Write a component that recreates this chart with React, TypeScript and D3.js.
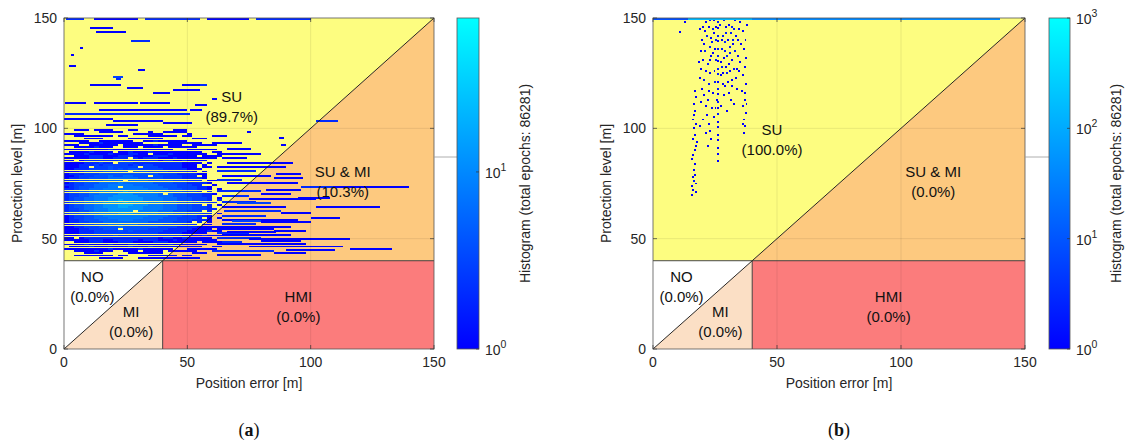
import React from "react";
import * as d3 from "d3";

// axis ticks (both axes, metres)
const axisTicks = [0, 50, 100, 150];

// counts per histogram level char ('.' = empty, '1'..'9')
const levelCounts = [0, 1, 2, 3, 4, 6, 8, 12, 18, 30];

// (a) dense core of the histogram: one string per protection level (top row first),
// one char per 2 m of position error starting at 0 m
const coreTopA = 99;
const coreBinA = 2;
const coreRowsA = [
  "..111.1111...11.......111.......",
  ".......11111.....1..11111.......",
  "1111..........111111.....1......",
  "..11111111.11....111111.11......",
  "....1111.....1111111......111...",
  "11111..1111111..112111111.......",
  "...1111211111111.....1111111..11",
  "111..111111.111111211111..11111.",
  "..11112111..111.1111.111111.....",
  "1111111112111112111111...111111.",
  ".111121111.11211121111111111..11",
  "11112111121112211.11121111111...",
  "..1112221112221111222111111.1111",
  "1111122211222.21222111211111111.",
  "11.12222222322222221221121111...",
  "1111222322.33322222222221111.1..",
  "111222323333323233222222111.1...",
  "11122.333433333.33322222111.11.1",
  "1122233334343443333322222111....",
  "1112333344444.4443333222221.1..1",
  "12223334444444444443333222211...",
  "11233344454455444.443333222.1...",
  "12233444455555544444333322221...",
  "222334445555.555544444333222.111",
  "123344455556555555444433322221..",
  "2233445556666655555444433322..1.",
  "12344455566.666655554443333221..",
  "223445556666666665555444333221.1",
  "2334455666667666665554443332.2..",
  "23344556666777666665.5444333221.",
  "233445666677777666655544433322..",
  "234455666777777766665554443332.1",
  "234455666778777766665554443332.2",
  "2344556677778777766655544433322.",
  "2344556677788877766655544433.2.1",
  "234455667778877766665554443332..",
  "2334556667777777666655544433322.",
  "23344566677777.6666555444333.2..",
  "233445566667776666655544433322.1",
  "123344556666666665555444333221..",
  "1233445556666666555544433332.1.1",
  "122344455556665555544443332221..",
  "12233444555555555444443332.2.1..",
  "112233444555555444443333222.11..",
  "1122333444454444444333322221111.",
  "11122333444.444443333222221111..",
  "11122233333434333333222221111211",
  "11122233333333333332222211111...",
  "11122222223222222222222211112111",
  "11.122222222222222212211211111..",
  "1111122211222221222111211111111.",
  "..1112221112221111222111111.1111",
  "11112111121112211111121111111...",
  ".111121111111211121111111111..11",
  "1111111112111112111111...111111.",
  "..11112111..111.1111.111111.....",
  "....1111.....1111111......111...",
  "..11111111.11....111111.11......",
  ".......11111.....1..11111.......",
];

// (a) separate streaks: [protection level, pe from, pe to, count]
const streaksA = [
  [145, 10.5, 20, 1], [143, 13, 25, 1], [139, 27, 35, 2], [136, 6.5, 7.5, 1],
  [133, 3, 4, 1], [123, 20, 24, 3], [122, 21, 23, 2], [119, 10.5, 23, 1],
  [118, 25.5, 32, 1], [115.5, 36, 43, 1], [117, 44, 55, 1], [119, 55, 58, 2],
  [111, 0.5, 9, 1], [111, 12, 30, 1], [110, 53, 58, 1], [111, 31, 43, 1],
  [108, 51, 56, 1], [108, 14, 37, 1], [108, 37, 50, 1], [106, 0.5, 51, 2],
  [104, 0, 20, 1], [103, 20, 40, 1], [101, 17, 30, 1], [102, 40, 52, 1],
  [119, 48, 55, 1], [128, 2, 5, 1], [126, 30, 33, 1], [113, 60, 62, 1],
  [103, 102, 111, 2], [98, 74, 76, 1], [95, 87, 89, 1], [92, 88, 90, 1],
  [96, 60, 66, 1], [93, 64, 72, 1], [90, 66, 76, 1], [88, 62, 80, 1],
  [86, 64, 74, 1], [84, 66, 93, 1], [82, 64, 90, 1], [80, 62, 78, 2],
  [78, 64, 84, 1], [76, 62, 72, 2], [75, 66, 95, 1], [73, 96, 109, 2],
  [73, 109, 140, 1], [71, 62, 80, 2], [70, 80, 92, 1], [69, 64, 75, 2],
  [67.5, 75, 102, 1], [66, 64, 78, 2], [64, 102, 128, 1], [64, 64, 90, 1],
  [62, 65, 88, 2], [61, 88, 100, 1], [60, 64, 82, 2], [58, 64, 95, 1],
  [57, 80, 100, 1], [56, 64, 78, 2], [55, 62, 92, 1], [54, 62, 85, 1],
  [53, 85, 98, 1], [52, 62, 75, 2], [51, 64, 92, 1], [50, 62, 80, 2],
  [49.4, 75, 116, 1], [48, 64, 72, 2], [47, 62, 98, 1], [46, 75, 113, 1],
  [45, 116, 133, 1], [44, 60, 85, 2], [43, 85, 98, 1], [42, 62, 80, 1],
  [41, 30, 55, 1], [59, 100, 112, 1], [68, 95, 108, 1], [77, 85, 97, 1],
  [65.5, 70, 84, 3], [57.5, 68, 80, 3], [52.5, 66, 86, 1], [48.5, 80, 96, 1],
  [44.5, 90, 110, 1], [71.5, 82, 96, 1], [79, 86, 96, 1],
];

// top row (clipped at 150 m): [pe from, pe to, count]
const topRowA = [
  [1, 8, 2], [12, 30, 1], [33, 55, 2], [58, 75, 1], [78, 100, 2],
];
const topRowB = [
  [0, 14, 8], [14, 40, 150], [40, 140, 40],
];

// (b) single histogram cells: [position error, protection level, count]
const pointsB = [
  [15.8, 70, 1], [16.2, 72, 1], [15.9, 74, 1], [16.5, 76, 2], [16.1, 78, 1], [17, 79, 1],
  [16.4, 81, 1], [17.5, 71, 1], [17.2, 75, 1], [16, 88, 1], [16.8, 90, 1], [17.4, 92, 1],
  [16.2, 95, 1], [17, 97, 1], [16.5, 100, 1], [17.6, 94, 1], [16.3, 104, 1], [17.1, 108, 1],
  [16.6, 111, 1], [17.3, 114, 1], [16.9, 117, 1], [10.9, 143.7, 1], [13, 148, 1],
  [19.2, 112, 1], [19.8, 118, 1], [20.5, 122, 2], [19.5, 127, 1], [20.2, 131, 1], [21, 135, 2],
  [19.6, 140, 1], [20.8, 144, 1], [21.5, 148, 1], [22, 113, 1], [22.5, 120, 2], [23, 125, 1],
  [22.2, 129, 2], [23.5, 133, 1], [22.8, 137, 2], [23.2, 141, 1], [24, 145, 2], [24.5, 149, 1],
  [21.8, 106, 1], [22.6, 102, 1], [23.8, 109, 1], [24.2, 116, 1], [25, 121, 2], [24.8, 126, 1],
  [25.3, 131, 2], [25, 136, 1], [25.6, 140, 2], [24.6, 143, 1], [20, 104, 1], [21.2, 98, 1],
  [19, 101, 1], [23.5, 95, 1], [22, 92, 1],
  [26.2, 85, 1], [26.3, 88.5, 1], [26.1, 91, 1], [26.2, 94.5, 1], [26.3, 97, 1], [26.2, 100.5, 1],
  [26.1, 103, 1], [26.2, 106.5, 2], [26.3, 109, 1], [26.2, 112, 2], [26.1, 115.5, 1], [26.2, 118, 2],
  [26.3, 121, 1], [26.2, 124.5, 2], [26.1, 127, 2], [26.2, 130.5, 1], [26.3, 133, 2], [26.2, 136, 2],
  [26.1, 139.5, 1], [26.2, 142, 2], [26.3, 145.5, 1], [26.2, 148, 2],
  [27.5, 124, 1], [28, 128, 2], [28.5, 132, 1], [27.8, 136, 2], [29, 139, 3], [28.2, 142, 2],
  [29.5, 146, 1], [28.8, 149, 2], [30, 125, 2], [30.5, 129, 1], [29.8, 133, 3], [31, 137, 2],
  [30.3, 140, 1], [31.5, 143, 2], [30.8, 147, 1], [32, 122, 1], [32.5, 127, 2], [31.8, 131, 1],
  [33, 135, 2], [32.3, 138, 1], [33.5, 142, 1], [32.8, 145, 2], [33.2, 149, 1], [29.2, 119, 1],
  [30.6, 116, 1], [31.4, 113, 1], [28.6, 115, 1], [33.8, 118, 1], [27.3, 110, 1], [29.9, 108, 1],
  [32.7, 111, 1],
  [36.5, 98, 1], [37, 101, 1], [36.8, 104, 1], [37.4, 107, 1], [36.2, 110, 1], [37.2, 113, 1],
  [36.9, 116, 1], [37.6, 120, 1], [36.4, 124, 1], [37.1, 128, 1], [37.5, 132, 1], [36.7, 136, 1],
  [37.3, 140, 1], [36.1, 144, 1], [37.8, 147, 1], [35.2, 130, 1], [35.6, 138, 1], [34.8, 126, 1],
  [21.3, 126, 1], [22.9, 131, 1], [20.7, 138, 1], [23.7, 139, 2], [24.3, 134, 1], [21.9, 142, 2],
  [22.4, 146, 1], [23.1, 149, 2], [20.1, 146, 1], [19.4, 135, 1], [25.4, 146, 1], [27.1, 147, 2],
  [27.9, 140, 1], [28.9, 135, 2], [29.6, 128, 1], [31.2, 126, 1], [30.1, 121, 1], [31.9, 146, 2],
  [33.7, 127, 1], [34.2, 133, 1], [34.5, 145, 1], [30.9, 134, 2], [29.3, 143, 2], [28.4, 125, 1],
  [27.6, 130, 1], [32.1, 140, 2], [30.2, 150, 1], [35.1, 148, 1], [34.1, 140, 1], [25.8, 113, 1],
  [24.4, 105, 1], [23.1, 99, 1], [21.5, 110, 1], [20.6, 115, 1], [19.1, 123, 1], [18.6, 130, 1],
  [18.9, 145, 1], [22.7, 117, 1], [25.2, 109, 1], [28.1, 120, 1], [31.7, 119, 1], [33.4, 123, 1],
  [35.8, 117, 1], [36.3, 102, 1], [37.7, 111, 1], [16.9, 84, 1], [15.9, 86, 1], [17.3, 102, 1],
  [16.7, 106, 1],
];

// colour bar maxima and tick exponents
const colorMaxA = 74;
const colorMaxB = 1000;
const colorTicksA = [0, 1];
const colorTicksB = [0, 1, 2, 3];

// decision zones (position error, protection level)
const zones = [
  { name: "SU", pts: [[0, 40], [40, 40], [150, 150], [0, 150]] },
  { name: "SUMI", pts: [[40, 40], [150, 40], [150, 150]] },
  { name: "NO", pts: [[0, 0], [0, 40], [40, 40]] },
  { name: "MI", pts: [[0, 0], [40, 0], [40, 40]] },
  { name: "HMI", pts: [[40, 0], [150, 0], [150, 40], [40, 40]] },
];
const zoneColors = {
  SU: "#fdfd80",
  SUMI: "#fdc97f",
  NO: "#ffffff",
  MI: "#fbdfc5",
  HMI: "#fb7c7c",
};

// zone labels: [name, share, pe, pl]
const labelsA = [
  ["SU", "(89.7%)", 68, 114],
  ["SU & MI", "(10.3%)", 113, 80],
  ["NO", "(0.0%)", 11.5, 32.6],
  ["MI", "(0.0%)", 27.2, 16.8],
  ["HMI", "(0.0%)", 95, 23.6],
];
const labelsB = [
  ["SU", "(100.0%)", 48, 99.2],
  ["SU & MI", "(0.0%)", 113, 80],
  ["NO", "(0.0%)", 11.5, 32.6],
  ["MI", "(0.0%)", 27.2, 16.8],
  ["HMI", "(0.0%)", 95, 23.6],
];

const font = "'Liberation Sans', Arial, sans-serif";

function cellsA() {
  const out = [];
  coreRowsA.forEach((row, r) => {
    const pl = coreTopA - r;
    [...row].forEach((ch, i) => {
      if (ch === ".") return;
      out.push({ x0: i * coreBinA, x1: (i + 1) * coreBinA, y0: pl, y1: pl + 0.8, c: levelCounts[+ch] });
    });
  });
  streaksA.forEach(([pl, a, b, c]) => out.push({ x0: a, x1: b, y0: pl, y1: pl + 0.9, c }));
  topRowA.forEach(([a, b, c]) => out.push({ x0: a, x1: b, y0: 149.2, y1: 150, c }));
  return out;
}

function cellsB() {
  const out = [];
  pointsB.forEach(([pe, pl, c]) => out.push({ x0: pe - 0.4, x1: pe + 0.4, y0: pl - 0.45, y1: pl + 0.45, c }));
  topRowB.forEach(([a, b, c]) => out.push({ x0: a, x1: b, y0: 149.1, y1: 150, c }));
  return out;
}

const Panel = ({ id, left, width, cells, colorMax, colorTicks, labels, caption, cbLeft, cbWidth }) => {
  const top = 18;
  const height = 331;
  const x = d3.scaleLinear().domain([0, 150]).range([left, left + width]);
  const y = d3.scaleLinear().domain([0, 150]).range([top + height, top]);
  const lmax = Math.log10(colorMax);
  const color = d3.scaleLinear().domain([0, lmax]).range(["#0000ff", "#00ffff"]);
  const cbY = d3.scaleLinear().domain([0, lmax]).range([top + height, top]);
  const line = d3.line().x((d) => x(d[0])).y((d) => y(d[1]));
  const cx = x(75);

  // snap histogram cells to whole pixels, at least one pixel each way
  const px = (d) => {
    const x0 = Math.round(x(d.x0));
    const y0 = Math.round(y(d.y1));
    const w = Math.max(1, Math.round(x(d.x1)) - x0);
    const h = Math.max(1, Math.round(y(d.y0)) - y0);
    return { x0, y0, w, h };
  };

  return (
    <g>
      <defs>
        <clipPath id={"clip" + id}>
          <rect x={left} y={top} width={width} height={height} />
        </clipPath>
        <linearGradient id={"grad" + id} x1="0" y1="1" x2="0" y2="0">
          <stop offset="0%" stopColor="#0000ff" />
          <stop offset="100%" stopColor="#00ffff" />
        </linearGradient>
      </defs>

      {zones.map((z) => (
        <path key={z.name} d={line(z.pts) + "Z"} fill={zoneColors[z.name]} />
      ))}

      <g clipPath={`url(#clip${id})`} shapeRendering="crispEdges">
        {cells.map((d, i) => {
          const r = px(d);
          return <rect key={i} x={r.x0} y={r.y0} width={r.w} height={r.h} fill={color(Math.log10(d.c))} />;
        })}
      </g>

      {/* faint grid */}
      {axisTicks.slice(1, 3).map((t) => (
        <g key={t} stroke="#000" strokeOpacity={0.12} strokeWidth={0.7}>
          <line x1={x(t)} x2={x(t)} y1={top} y2={top + height} />
          <line x1={left} x2={left + width} y1={y(t)} y2={y(t)} />
        </g>
      ))}

      {/* zone boundaries */}
      <path d={line([[0, 0], [150, 150]])} stroke="#111" strokeWidth={0.9} fill="none" />
      <path d={line([[0, 40], [150, 40]])} stroke="#333" strokeWidth={0.9} fill="none" />
      <path d={line([[40, 0], [40, 40]])} stroke="#333" strokeWidth={0.9} fill="none" />

      {/* frame and ticks */}
      <rect x={left} y={top} width={width} height={height} fill="none" stroke="#555" strokeWidth={0.8} />
      {axisTicks.map((t) => (
        <g key={t} stroke="#333" strokeWidth={0.7}>
          <line x1={x(t)} x2={x(t)} y1={top + height} y2={top + height - 4} />
          <line x1={x(t)} x2={x(t)} y1={top} y2={top + 4} />
          <line x1={left} x2={left + 4} y1={y(t)} y2={y(t)} />
          <line x1={left + width} x2={left + width - 4} y1={y(t)} y2={y(t)} />
        </g>
      ))}
      {axisTicks.map((t) => (
        <text key={"x" + t} x={x(t)} y={top + height + 18} textAnchor="middle" fontSize={14} fontFamily={font} fill="#262626">
          {t}
        </text>
      ))}
      {axisTicks.map((t) => (
        <text key={"y" + t} x={left - 7} y={y(t) + 5} textAnchor="end" fontSize={14} fontFamily={font} fill="#262626">
          {t}
        </text>
      ))}
      <text x={cx} y={top + height + 39} textAnchor="middle" fontSize={14} fontFamily={font} fill="#262626">
        Position error [m]
      </text>
      <text
        transform={`translate(${left - 42},${top + height / 2}) rotate(-90)`}
        textAnchor="middle"
        fontSize={14}
        fontFamily={font}
        fill="#262626"
      >
        Protection level [m]
      </text>

      {/* zone labels */}
      {labels.map(([a, b, pe, pl]) => (
        <text key={a} x={x(pe)} y={y(pl) + 5} textAnchor="middle" fontSize={15} fontFamily={font} fill="#111">
          <tspan x={x(pe)}>{a}</tspan>
          <tspan x={x(pe)} dy={20}>{b}</tspan>
        </text>
      ))}

      {/* connector to colour bar */}
      <line x1={left + width} x2={cbLeft} y1={157} y2={157} stroke="#999" strokeWidth={0.8} />

      {/* colour bar */}
      <rect x={cbLeft} y={top} width={cbWidth} height={height} fill={`url(#grad${id})`} stroke="#555" strokeWidth={0.8} />
      {colorTicks.map((e) => (
        <g key={e}>
          <line x1={cbLeft + cbWidth} x2={cbLeft + cbWidth - 3} y1={cbY(e)} y2={cbY(e)} stroke="#333" strokeWidth={0.7} />
          <text x={cbLeft + cbWidth + 6} y={cbY(e) + 6} fontSize={14} fontFamily={font} fill="#262626">
            10
            <tspan dy={-7} fontSize={10.5}>{e}</tspan>
          </text>
        </g>
      ))}
      <text
        transform={`translate(${cbLeft + cbWidth + 51},${top + height / 2}) rotate(-90)`}
        textAnchor="middle"
        fontSize={14}
        fontFamily={font}
        fill="#262626"
      >
        Histogram (total epochs: 86281)
      </text>

      <text x={cx} y={436} textAnchor="middle" fontSize={18} fontFamily="'Liberation Serif', 'DejaVu Serif', serif" fill="#111">
        (<tspan fontWeight="bold">{caption}</tspan>)
      </text>
    </g>
  );
};

export default function App() {
  return (
    <svg width={1130} height={441} style={{ position: "absolute", left: 0, top: 0, background: "#fff" }}>
      <rect width={1130} height={441} fill="#fff" />
      <Panel
        id="a"
        left={64}
        width={370}
        cells={cellsA()}
        colorMax={colorMaxA}
        colorTicks={colorTicksA}
        labels={labelsA}
        caption="a"
        cbLeft={457}
        cbWidth={22}
      />
      <Panel
        id="b"
        left={653}
        width={372}
        cells={cellsB()}
        colorMax={colorMaxB}
        colorTicks={colorTicksB}
        labels={labelsB}
        caption="b"
        cbLeft={1049}
        cbWidth={21}
      />
    </svg>
  );
}
